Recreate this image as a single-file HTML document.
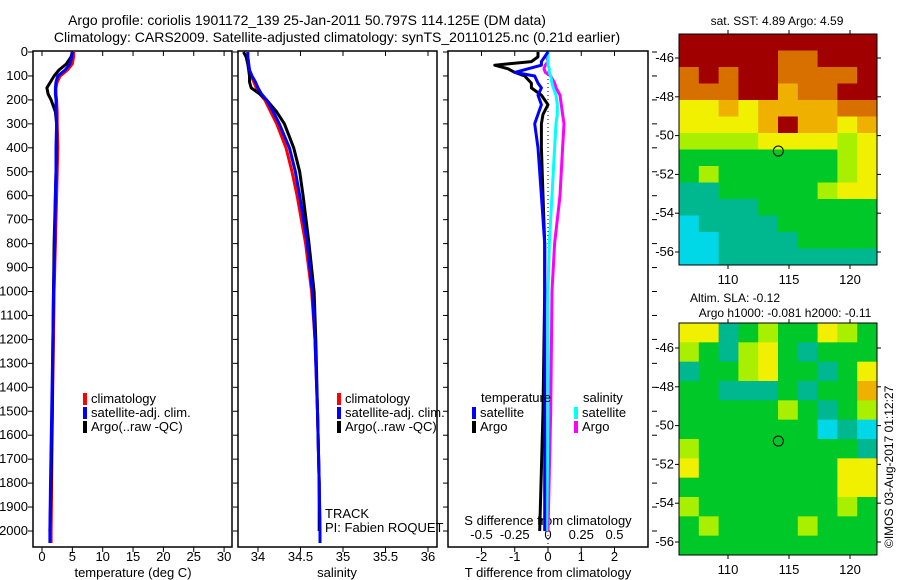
<!DOCTYPE html>
<html><head><meta charset="utf-8"><style>
html,body{margin:0;padding:0;background:#fff;}
svg{display:block;font-family:"Liberation Sans",sans-serif;}
</style></head><body>
<svg id="fig" width="900" height="580" viewBox="0 0 900 580">
<text x="307" y="25" font-size="14" text-anchor="middle">Argo profile: coriolis 1901172_139 25-Jan-2011 50.797S 114.125E (DM data)</text>
<text x="337" y="42" font-size="14" text-anchor="middle">Climatology: CARS2009. Satellite-adjusted climatology: synTS_20110125.nc (0.21d earlier)</text>
<g id="g"></g>
</svg>
<script>
// ---------- data ----------
const depths = [0,20,50,75,100,125,150,175,200,250,300,400,500,600,800,1000,1200,1500,1800,2000,2050];
const tClim = [5.2,5.2,5.0,4.2,3.0,2.5,2.3,2.3,2.4,2.5,2.5,2.6,2.5,2.4,2.2,2.0,1.9,1.7,1.6,1.5,1.5];
const tSat  = [5.0,4.9,4.6,3.8,2.6,2.3,2.2,2.2,2.3,2.3,2.4,2.3,2.3,2.2,2.1,1.9,1.8,1.6,1.4,1.3,1.3];
const tArgo = [5.0,4.8,4.0,2.8,2.0,1.4,0.8,1.0,1.5,2.2,2.4,2.4,2.3,2.2,2.0,1.9,1.8,1.7,1.5,1.3];
const sClim = [33.88,33.88,33.89,33.90,33.92,33.95,33.98,34.02,34.08,34.15,34.22,34.33,34.40,34.46,34.56,34.63,34.67,34.70,34.72,34.73,34.73];
const sSat  = [33.88,33.88,33.89,33.90,33.93,33.97,34.00,34.04,34.10,34.18,34.25,34.37,34.44,34.49,34.58,34.64,34.67,34.70,34.72,34.73,34.73];
const sArgo = [33.83,33.86,33.88,33.89,33.90,33.90,33.92,34.02,34.10,34.22,34.31,34.42,34.49,34.53,34.60,34.66,34.68,34.70,34.72,34.72];
const dDepths = [0,20,40,55,70,85,100,130,150,180,220,260,300,400,600,800,1000,1500,2000];
const dTargo = [-0.3,-0.3,-0.5,-1.6,-1.2,-1.0,-0.7,-0.5,-0.5,-0.2,0.0,-0.15,-0.2,-0.2,-0.15,-0.1,-0.1,-0.15,-0.25];
const dTsat  = [0.0,-0.1,-0.2,-0.2,-0.6,-1.0,-0.4,-0.3,-0.2,-0.3,-0.2,-0.3,-0.4,-0.3,-0.2,-0.1,-0.1,-0.1,-0.1];
const dSsat  = [0.0,0.0,0.0,0.0,0.01,0.01,0.02,0.03,0.04,0.06,0.07,0.07,0.06,0.05,0.03,0.01,0.0,0.0,-0.01];
const dSargo = [0.0,-0.01,0.0,-0.02,-0.03,-0.02,0.02,0.05,0.06,0.09,0.10,0.11,0.12,0.11,0.09,0.05,0.03,0.02,0.0];
const depthTicks = [0,100,200,300,400,500,600,700,800,900,1000,1100,1200,1300,1400,1500,1600,1700,1800,1900,2000];
const tTicks = [0,5,10,15,20,25,30];
const sTicks = [34,34.5,35,35.5,36];
const sTickLabels = ["34","34.5","35","35.5","36"];
const dTTicks = [-2,-1,0,1,2];
const dSTicks = [-0.5,-0.25,0,0.25,0.5];
const latTicks = [-46,-48,-50,-52,-54,-56];
const lonTicks = [110,115,120];
const sstGrid = [
[8,8,8,8,8,8,8,8,8,8],
[8,8,8,8,8,7,7,8,8,8],
[7,8,7,8,8,7,7,7,7,8],
[7,7,7,8,8,6,7,7,8,8],
[5,5,6,5,6,6,6,6,7,7],
[5,5,5,5,6,8,6,6,5,6],
[4,4,4,4,5,5,5,5,4,5],
[3,3,3,3,3,3,3,3,4,5],
[3,4,3,3,3,3,3,3,4,5],
[2,2,3,3,3,3,3,4,5,5],
[2,2,2,2,3,3,3,3,3,3],
[1,2,2,2,2,3,3,3,3,3],
[1,1,2,2,2,2,3,3,3,3],
[1,1,2,2,2,2,2,2,2,2]];
const slaGrid = [
[5,5,2,3,4,3,3,5,4,3],
[4,3,2,4,5,3,2,3,3,3],
[2,3,3,4,5,3,3,2,3,5],
[3,3,2,2,2,3,2,3,3,6],
[3,3,3,3,3,4,3,2,3,4],
[3,3,3,3,3,3,3,1,2,1],
[4,3,3,3,3,3,3,3,3,2],
[5,3,3,3,3,3,3,3,5,5],
[3,3,3,3,3,3,3,3,5,5],
[4,3,3,3,3,3,3,3,4,3],
[3,4,3,3,3,3,4,3,3,3],
[3,3,3,3,3,3,3,3,3,3]];
const argoLon = 114.125, argoLat = -50.797;
// ---------- drawing ----------
const NS="http://www.w3.org/2000/svg", G=document.getElementById('g');
function mk(tag,attrs,parent){const e=document.createElementNS(NS,tag);for(const k in attrs)e.setAttribute(k,attrs[k]);(parent||G).appendChild(e);return e;}
const yD = d => 52 + d*0.2395;
const P1={x0:33,x1:232}, P2={x0:238,x1:437}, P3={x0:448,x1:648};
const xT = v => 42 + v*6.07;
const xS = v => 258 + (v-34)*85;
const xDT = v => 548 + v*33.25;
const xDS = v => 548 + v*133;
const panelTop=51, panelBot=547;

function frame(p,name){
  const r=mk('rect',{x:p.x0,y:panelTop,width:p.x1-p.x0,height:panelBot-panelTop,fill:'none',stroke:'#000','stroke-width':1.5});
  
  
}
frame(P1,'temperature-panel-frame');frame(P2,'salinity-panel-frame');frame(P3,'difference-panel-frame');

depthTicks.forEach(d=>{
  const y=yD(d);
  [P1,P2,P3].forEach(p=>{mk('line',{x1:p.x0-5,x2:p.x0,y1:y,y2:y,stroke:'#000'});});
  mk('line',{x1:P3.x1+4,x2:P3.x1+9,y1:y,y2:y,stroke:'#000'});
  const t=mk('text',{x:28,y:y+4,'font-size':13,'text-anchor':'end'});t.textContent=d;
  
  
});
function xticks(vals,labels,fx,ybase,name,top){
  vals.forEach((v,i)=>{
    const x=fx(v);
    mk('line',{x1:x,x2:x,y1:panelBot,y2:panelBot+5,stroke:'#000'});
    if(top) mk('line',{x1:x,x2:x,y1:panelTop,y2:panelTop+5,stroke:'#000'});
    const t=mk('text',{x:x,y:ybase,'font-size':13,'text-anchor':'middle'});t.textContent=labels[i];
    
    
  });
}
xticks(tTicks,tTicks.map(String),xT,561,'temperature-tick-label',true);
xticks(sTicks,sTickLabels,xS,561,'salinity-tick-label',true);
xticks(dTTicks,dTTicks.map(String),xDT,561,'t-diff-tick-label',true);
dSTicks.forEach(v=>{const t=mk('text',{x:xDS(v),y:539,'font-size':13,'text-anchor':'middle'});t.textContent=String(v);
  
  });
function label(txt,x,y,name,anchor,fs){const t=mk('text',{x:x,y:y,'font-size':fs||13,'text-anchor':anchor||'start'});t.textContent=txt;
  
  return t;}
label('temperature (deg C)',133,577,'temperature-axis-title','middle');
label('salinity',337,577,'salinity-axis-title','middle');
label('T difference from climatology',548,577,'t-diff-axis-title','middle');
label('S difference from climatology',548,525,'s-diff-axis-title','middle');

function line(xs,ds,fx,color,name,w){
  const pts=xs.map((v,i)=>fx(v).toFixed(1)+','+yD(ds[i]).toFixed(1)).join(' ');
  const l=mk('polyline',{points:pts,fill:'none',stroke:color,'stroke-width':w||3,'stroke-linejoin':'round'});
  
  
}
line(tClim,depths,xT,'#f00','temp-climatology-line');
line(tArgo,depths,xT,'#000','temp-argo-line');
line(tSat,depths,xT,'#00f','temp-satellite-line');
line(sClim,depths,xS,'#f00','sal-climatology-line');
line(sArgo,depths,xS,'#000','sal-argo-line');
line(sSat,depths,xS,'#00f','sal-satellite-line');
mk('line',{x1:548,x2:548,y1:panelTop,y2:panelBot,stroke:'#000','stroke-dasharray':'1,3'});
line(dSargo,dDepths,xDS,'#f0f','s-diff-argo-line');
line(dSsat,dDepths,xDS,'#0ff','s-diff-satellite-line');
line(dTargo,dDepths,xDT,'#000','t-diff-argo-line');
line(dTsat,dDepths,xDT,'#00f','t-diff-satellite-line');

function legItem(x,y,color,txt,name){
  mk('rect',{x:x,y:y-10,width:4,height:12,fill:color});
  label(txt,x+8,y,name);
}
[[83,'legend-temp'],[337,'legend-sal']].forEach(([x,n])=>{
  legItem(x,403,'#f00','climatology',n+'-climatology');
  legItem(x,417,'#00f','satellite-adj. clim.',n+'-satellite');
  legItem(x,431,'#000','Argo(..raw -QC)',n+'-argo');
});
label('temperature',481,402,'legend-diff-temperature-heading');
label('salinity',583,402,'legend-diff-salinity-heading');
legItem(472,417,'#00f','satellite','legend-diff-t-satellite');
legItem(472,431,'#000','Argo','legend-diff-t-argo');
legItem(574,417,'#0ff','satellite','legend-diff-s-satellite');
legItem(574,431,'#f0f','Argo','legend-diff-s-argo');
label('TRACK',325,518,'track-label');
label('PI: Fabien ROQUET',325,532,'pi-label');

// maps
const cmap=['#0070ff','#00d8e8','#00b890','#00c828','#a8f000','#f0f000','#f0b000','#d87000','#a00000'];
const xLon = v => 728 + (v-110)*12.2;
function drawMap(grid,y0,y1,yLat,name,title1,title2){
  const x0=679,x1=877;
  const rows=grid.length, cols=grid[0].length;
  const cw=(x1-x0)/cols, ch=(y1-y0)/rows;
  grid.forEach((row,r)=>row.forEach((v,c)=>{
    const e=mk('rect',{x:x0+c*cw,y:y0+r*ch,width:cw+0.5,height:ch+0.5,fill:cmap[v]});
    
    
  }));
  const f=mk('rect',{x:x0,y:y0,width:x1-x0,height:y1-y0,fill:'none',stroke:'#000'});
  
  
  latTicks.forEach(l=>{const y=yLat(l);mk('line',{x1:x0-4,x2:x0,y1:y,y2:y,stroke:'#000'});mk('line',{x1:x1,x2:x1+4,y1:y,y2:y,stroke:'#000'});
    label(String(l),674,y+4,name+'-lat-label','end');});
  lonTicks.forEach(l=>{const x=xLon(l);mk('line',{x1:x,x2:x,y1:y1,y2:y1+4,stroke:'#000'});mk('line',{x1:x,x2:x,y1:y0-4,y2:y0,stroke:'#000'});
    label(String(l),x,y1+19,name+'-lon-label','middle');});
  const c=mk('circle',{cx:xLon(argoLon),cy:yLat(argoLat),r:5,fill:'none',stroke:'#000'});
  
  
  label(title1[0],title1[1],title1[2],name+'-title','middle',12);
  if(title2) label(title2[0],title2[1],title2[2],name+'-subtitle','middle',12);
}
drawMap(sstGrid,34,265,l=>58+(-46-l)*19.4,'sst-map',['sat. SST: 4.89 Argo: 4.59',777,25]);
drawMap(slaGrid,323,555,l=>348+(-46-l)*19.4,'sla-map',['Altim. SLA: -0.12',735,302],['Argo h1000: -0.081 h2000: -0.11',785,317]);
const cr=mk('text',{x:0,y:0,'font-size':12,'transform':'translate(893,548) rotate(-90)'});cr.textContent='©IMOS 03-Aug-2017 01:12:27';


</script>
</body></html>
